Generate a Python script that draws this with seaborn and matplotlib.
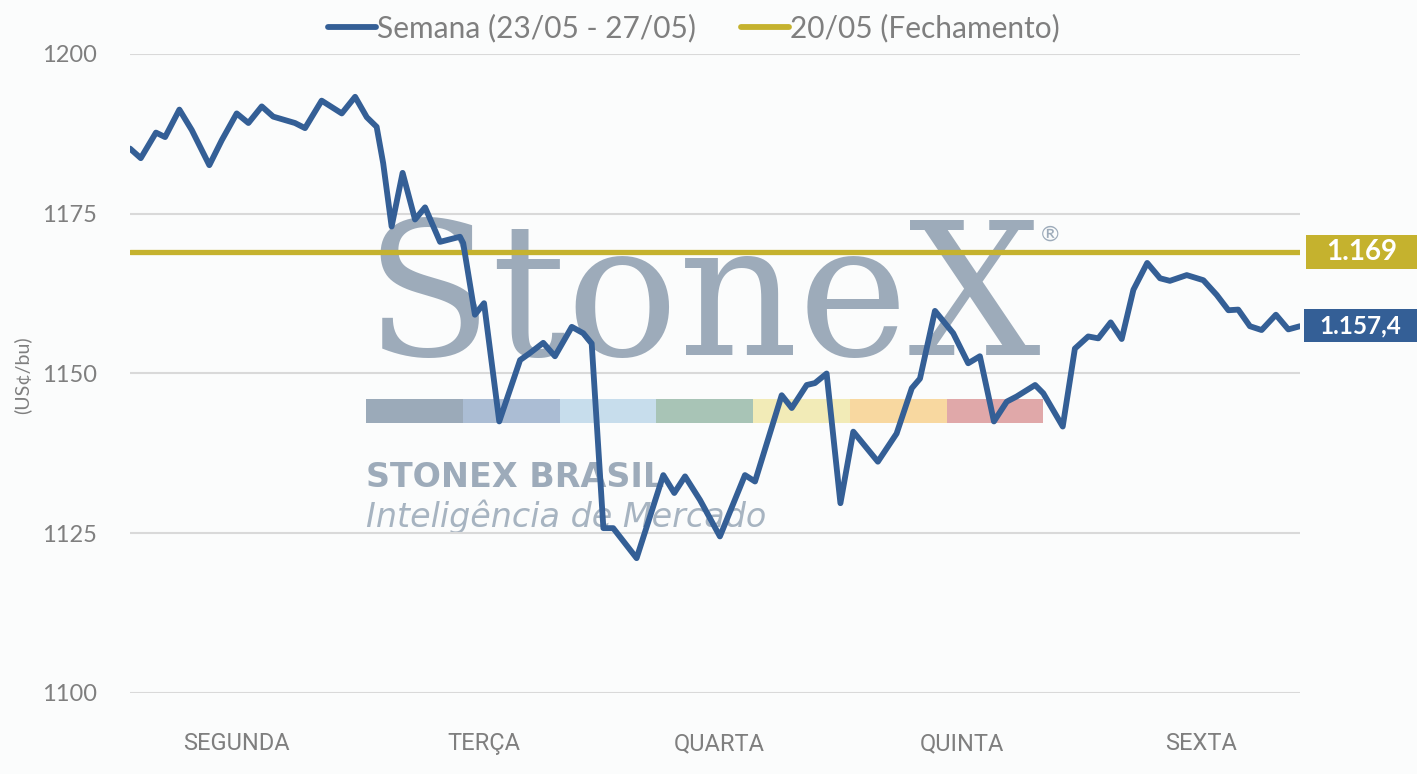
import numpy as np
import pandas as pd
import matplotlib
matplotlib.use("Agg")
import matplotlib.pyplot as plt
from matplotlib.patches import Rectangle
from matplotlib.transforms import blended_transform_factory
import seaborn as sns

# ---------------- data ----------------
day_labels = ["SEGUNDA", "TERÇA", "QUARTA", "QUINTA", "SEXTA"]
week_time = [0.000, 0.046, 0.111, 0.150, 0.211, 0.264, 0.339, 0.392, 0.456, 0.506,
             0.563, 0.612, 0.705, 0.748, 0.819, 0.905, 0.962, 1.012, 1.054, 1.082,
             1.118, 1.165, 1.218, 1.261, 1.325, 1.410, 1.424, 1.474, 1.513, 1.578,
             1.667, 1.709, 1.766, 1.816, 1.888, 1.937, 1.973, 2.023, 2.065, 2.165,
             2.279, 2.326, 2.372, 2.436, 2.521, 2.628, 2.671, 2.785, 2.828, 2.892,
             2.927, 2.977, 3.036, 3.091, 3.196, 3.276, 3.341, 3.376, 3.440, 3.518,
             3.582, 3.632, 3.692, 3.747, 3.789, 3.868, 3.903, 3.986, 4.038, 4.095,
             4.138, 4.191, 4.238, 4.288, 4.347, 4.402, 4.444, 4.516, 4.587, 4.644,
             4.694, 4.736, 4.786, 4.836, 4.897, 4.950, 5.000]
week_price = [1185.2, 1183.7, 1187.7, 1187.0, 1191.3, 1188.1, 1182.6, 1186.5, 1190.7, 1189.2,
              1191.8, 1190.2, 1189.2, 1188.4, 1192.7, 1190.7, 1193.3, 1190.1, 1188.6, 1182.9,
              1173.0, 1181.4, 1174.1, 1176.0, 1170.6, 1171.4, 1170.4, 1159.2, 1161.0, 1142.5,
              1152.1, 1153.2, 1154.8, 1152.7, 1157.3, 1156.3, 1154.7, 1125.8, 1125.8, 1121.1,
              1134.1, 1131.3, 1133.9, 1130.2, 1124.5, 1134.1, 1133.1, 1146.6, 1144.6, 1148.2,
              1148.5, 1150.0, 1129.7, 1140.9, 1136.2, 1140.6, 1147.7, 1149.2, 1159.8, 1156.3,
              1151.6, 1152.7, 1142.5, 1145.6, 1146.4, 1148.2, 1146.9, 1141.7, 1153.9, 1155.8,
              1155.5, 1158.0, 1155.4, 1163.1, 1167.3, 1164.9, 1164.5, 1165.4, 1164.6, 1162.3,
              1159.9, 1160.0, 1157.4, 1156.8, 1159.2, 1156.9, 1157.4]
close_prev = 1169.0
last_price = 1157.4
series_week = "Semana (23/05 - 27/05)"
series_close = "20/05 (Fechamento)"
y_ticks = [1100, 1125, 1150, 1175, 1200]

# ---------------- style ----------------
BLUE = "#345F96"
GOLD = "#C5B22E"
GRAY = "#7F7F7F"
WM = "#9DABBA"
BG = "#FBFCFC"

sns.set_theme(style="white")
plt.rcParams["font.family"] = ["Lato", "DejaVu Sans"]

fig = plt.figure(figsize=(14.17, 7.74), dpi=100, facecolor=BG)
ax = fig.add_axes([130 / 1417, 1 - 693 / 774, 1170 / 1417, 639 / 774])
ax.set_facecolor(BG)

df = pd.DataFrame({"t": week_time, "price": week_price})

# watermark (behind the data)
ax.text(0.2000, 0.529, "StoneX", transform=ax.transAxes, family="DejaVu Serif",
        fontsize=134, color=WM, va="baseline", ha="left", zorder=0.5)
ax.text(0.7862, 0.717, "®", transform=ax.transAxes, fontsize=16, color=WM,
        va="center", ha="center", zorder=0.5)
bar_colors = ["#9BAAB9", "#ABBDD4", "#C7DDEC", "#A8C4B6", "#F2EBB7", "#F8D8A0", "#E0A8A9"]
seg_w = 0.0827
for i, c in enumerate(bar_colors):
    ax.add_patch(Rectangle((0.2017 + i * seg_w, 0.4225), seg_w, 0.0376,
                           transform=ax.transAxes, facecolor=c, edgecolor="none", zorder=0.5))
ax.text(0.2017, 0.3224, "STONEX BRASIL", transform=ax.transAxes, family="DejaVu Sans",
        fontweight="bold", fontsize=24, color=WM, va="baseline", ha="left", zorder=0.5)
ax.text(0.2017, 0.2598, "Inteligência de Mercado", transform=ax.transAxes,
        family="DejaVu Sans", fontstyle="italic", fontweight="normal",
        fontsize=24, color="#A7B4C1", va="baseline", ha="left", zorder=0.5)

# data
ax.axhline(close_prev, color=GOLD, lw=3.8, label=series_close, zorder=2)
sns.lineplot(data=df, x="t", y="price", ax=ax, color=BLUE, lw=4.2,
             label=series_week, zorder=3, solid_joinstyle="round", solid_capstyle="round")

ax.set_xlim(0, 5)
ax.set_ylim(1100, 1200)
ax.set_yticks(y_ticks)
ax.set_yticklabels([str(v) for v in y_ticks])
ax.yaxis.grid(True, color="#D9D9D9", lw=1.5)
ax.set_axisbelow(True)
ax.xaxis.grid(False)
for s in ax.spines.values():
    s.set_visible(False)
ax.tick_params(axis="y", length=0, pad=24, labelsize=17, labelcolor=GRAY)
ax.tick_params(axis="x", length=0, pad=28, labelsize=17, labelcolor=GRAY)
ax.set_xticks([0.453, 1.513, 2.52, 3.556, 4.577])
ax.set_xticklabels(day_labels, family=["Roboto", "DejaVu Sans"])
ax.set_xlabel("")
ax.set_ylabel("")

fig.text(22 / 1417, 1 - 375 / 774, "(US¢/bu)", rotation=90, fontsize=14,
         color=GRAY, va="center", ha="center")

# legend
h, l = ax.get_legend_handles_labels()
order = [l.index(series_week), l.index(series_close)]
leg = ax.legend([h[i] for i in order], [l[i] for i in order], loc="center",
                bbox_to_anchor=(0.482, 1.041), ncol=2, frameon=False, fontsize=21.5,
                handlelength=1.6, handletextpad=0.05, columnspacing=1.5)
for t in leg.get_texts():
    t.set_color(GRAY)
for lh in leg.get_lines():
    lh.set_linewidth(4.2)
    lh.set_solid_capstyle("round")

# right-side value tags
tr = blended_transform_factory(ax.transAxes, ax.transData)
ax.add_patch(Rectangle((1.005, close_prev - 2.66), 0.0949, 5.32, transform=tr,
                       facecolor=GOLD, edgecolor="none", clip_on=False, zorder=4))
ax.text(1.0525, close_prev, f"{close_prev:,.0f}".replace(",", "."), transform=tr,
        ha="center", va="center", color="white", fontsize=20, fontweight="bold",
        clip_on=False, zorder=5)
ax.add_patch(Rectangle((1.0034, last_price - 2.5), 0.0962, 5.2, transform=tr,
                       facecolor=BLUE, edgecolor="none", clip_on=False, zorder=4))
ax.text(1.0515, last_price, "1.157,4", transform=tr,
        ha="center", va="center", color="white", fontsize=17.5, fontweight="bold",
        clip_on=False, zorder=5)

fig.savefig("out.png", dpi=100, facecolor=BG)
